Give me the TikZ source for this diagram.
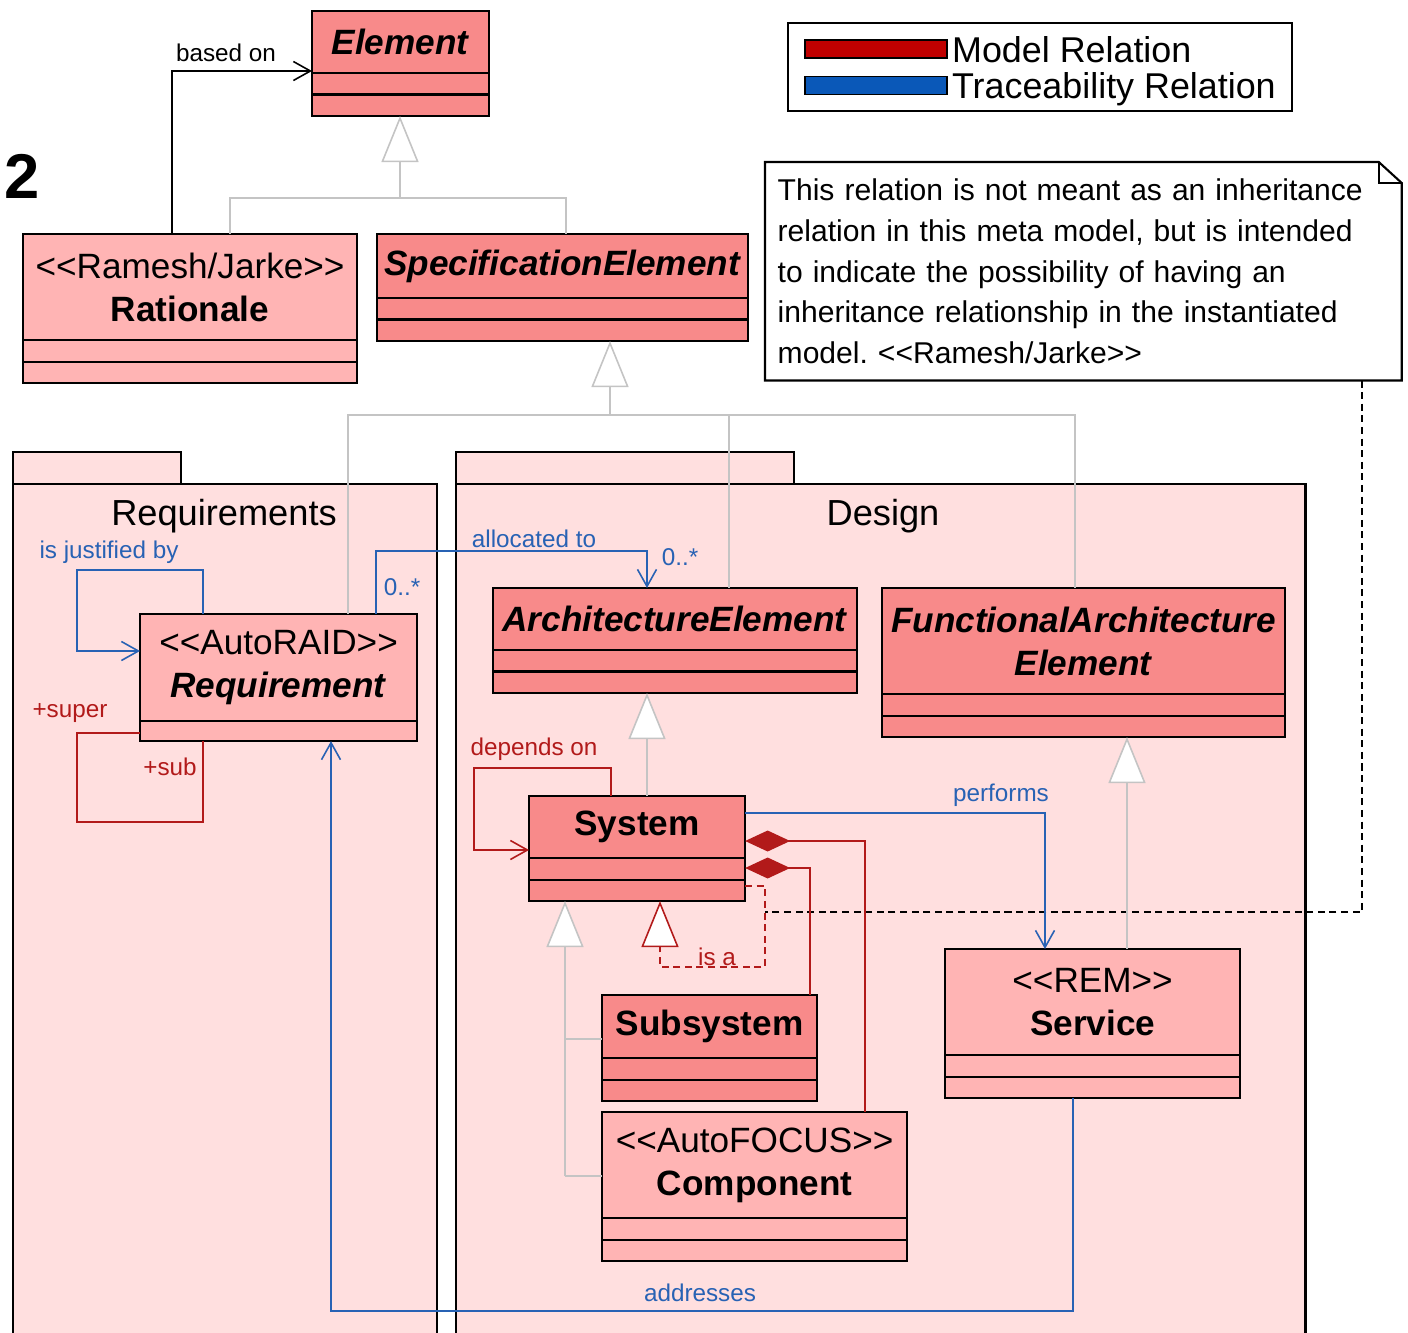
\documentclass[tikz,border=0pt]{standalone}
\usepackage{fontspec}
\setmainfont{Liberation Sans}
\usetikzlibrary{positioning,arrows.meta}
\definecolor{clsdark}{HTML}{F88A8A}
\definecolor{clslight}{HTML}{FFB4B4}
\definecolor{pkgfill}{HTML}{FFDFDF}
\definecolor{relred}{HTML}{B21A1A}
\definecolor{relblue}{HTML}{2862B4}
\definecolor{legred}{HTML}{C00000}
\definecolor{legblue}{HTML}{0A58B8}
\definecolor{genline}{HTML}{C4C4C4}

\begin{document}
\begin{tikzpicture}[x=0.01cm,y=-0.01cm,
	cls/.style={rectangle,draw,line width=0.6pt,anchor=north west,inner sep=0pt,outer sep=0pt,align=center,font=\fontsize{10}{12.2}\selectfont},
	cmp/.style={rectangle,draw,line width=0.6pt,inner sep=0pt,outer sep=0pt,minimum height=0.215cm,minimum width=#1},
	pkg/.style={rectangle,draw,line width=0.6pt,fill=pkgfill,anchor=north west,inner sep=0pt,outer sep=0pt},
	lbl/.style={font=\fontsize{6.9}{8}\selectfont,inner sep=1pt},
	assoc/.style={line width=0.45pt,-{Straight Barb[length=0.17cm,width=0.19cm]}},
	trace/.style={assoc,draw=relblue},
	model/.style={line width=0.45pt,draw=relred},
	gen/.style={line width=0.45pt,draw=genline,-{Triangle[fill=white,length=0.46cm,width=0.37cm]}},
	genl/.style={line width=0.45pt,draw=genline},
	legbar/.style={rectangle,draw,line width=0.5pt,inner sep=0pt,minimum width=1.42cm,minimum height=0.18cm}]
	\useasboundingbox (0,0) rectangle (1408,1333);
	\fill[white] (0,0) rectangle (1408,1333);

	\node[font=\fontsize{18}{20}\selectfont\bfseries]	(num)	at (22,176)	{2};

	\node[draw,line width=0.6pt,anchor=north west,inner sep=0pt,minimum width=5.04cm,minimum height=0.88cm]	(legend)	at (787,22)	{};
	\node[legbar,fill=legred]	(barm)	at (876,49)	{};
	\node[legbar,fill=legblue]	(bart)	at (876,85.5)	{};
	\node[anchor=base west,inner sep=1pt,font=\fontsize{10.2}{12}\selectfont]	(legm)	at ([yshift=-0.13cm]barm.east)	{Model Relation};
	\node[anchor=base west,inner sep=1pt,font=\fontsize{10.2}{12}\selectfont]	(legt)	at ([yshift=-0.125cm]bart.east)	{Traceability Relation};

	\node[anchor=north west,fill=white,inner sep=0pt,minimum width=6.35cm,minimum height=2.17cm,text width=6.11cm,align=left,font=\fontsize{8.55}{11.6}\selectfont]	(note)	at (765,162)
	{This relation is not meant as an inheritance\\relation in this meta model, but is intended\\to indicate the possibility of having an\\inheritance relationship in the instantiated\\model.\ <{}<Ramesh/Jarke>{}>};
	\draw[line width=0.6pt] (note.north west) -- ([xshift=-0.23cm]note.north east) -- ([yshift=-0.21cm]note.north east) -- (note.south east) -- (note.south west) -- cycle;
	\draw[line width=0.6pt] ([xshift=-0.23cm]note.north east) -- ([xshift=-0.23cm,yshift=-0.21cm]note.north east) -- ([yshift=-0.21cm]note.north east);

	\node[pkg,minimum width=1.68cm,minimum height=0.32cm]	(reqtab)	at (13,452)	{};
	\node[pkg,minimum width=4.24cm,minimum height=8.7cm]	(reqpkg)	at (13,484)	{};
	\node[pkg,minimum width=3.38cm,minimum height=0.32cm]	(destab)	at (456,452)	{};
	\node[pkg,minimum width=8.49cm,minimum height=8.7cm]	(despkg)	at (456,484)	{};
	\node[font=\fontsize{10.3}{12}\selectfont]	(reqlbl)	at (224,516)	{Requirements};
	\node[font=\fontsize{10.3}{12}\selectfont]	(deslbl)	at (883,516)	{Design};

	\node[cls,fill=clsdark,minimum width=1.77cm,minimum height=0.62cm]	(elem)	at (312,11)	{\textbf{\textit{Element}}};
	\node[cmp=1.77cm,fill=clsdark,below=0pt of elem]	(elem-a)	{};
	\node[cmp=1.77cm,fill=clsdark,below=0pt of elem-a]	(elem-o)	{};
	\node[cls,fill=clslight,minimum width=3.34cm,minimum height=1.06cm]	(rat)	at (23,234)	{<{}<Ramesh/Jarke>{}>\\\textbf{Rationale}};
	\node[cmp=3.34cm,fill=clslight,below=0pt of rat]	(rat-a)	{};
	\node[cmp=3.34cm,fill=clslight,below=0pt of rat-a]	(rat-o)	{};
	\node[cls,fill=clsdark,minimum width=3.71cm,minimum height=0.64cm]	(spec)	at (377,234)	{\textbf{\textit{SpecificationElement}}};
	\node[cmp=3.71cm,fill=clsdark,below=0pt of spec]	(spec-a)	{};
	\node[cmp=3.71cm,fill=clsdark,below=0pt of spec-a]	(spec-o)	{};
	\node[cls,fill=clslight,minimum width=2.77cm,minimum height=1.07cm]	(req)	at (140,614)	{<{}<AutoRAID>{}>\\\textbf{\textit{Requirement}}};
	\node[cmp=2.77cm,fill=clslight,minimum height=0.2cm,below=0pt of req]	(req-a)	{};
	\node[cls,fill=clsdark,minimum width=3.64cm,minimum height=0.62cm]	(arch)	at (493,588)	{\textbf{\textit{ArchitectureElement}}};
	\node[cmp=3.64cm,fill=clsdark,below=0pt of arch]	(arch-a)	{};
	\node[cmp=3.64cm,fill=clsdark,below=0pt of arch-a]	(arch-o)	{};
	\node[cls,fill=clsdark,minimum width=4.03cm,minimum height=1.06cm]	(fae)	at (882,588)	{\textbf{\textit{FunctionalArchitecture}}\\\textbf{\textit{Element}}};
	\node[cmp=4.03cm,fill=clsdark,below=0pt of fae]	(fae-a)	{};
	\node[cmp=4.03cm,fill=clsdark,below=0pt of fae-a]	(fae-o)	{};
	\node[cls,fill=clsdark,minimum width=2.16cm,minimum height=0.62cm]	(sys)	at (529,796)	{\textbf{System}};
	\node[cmp=2.16cm,fill=clsdark,below=0pt of sys]	(sys-a)	{};
	\node[cmp=2.16cm,fill=clsdark,below=0pt of sys-a]	(sys-o)	{};
	\node[cls,fill=clsdark,minimum width=2.15cm,minimum height=0.63cm]	(sub)	at (602,995)	{\textbf{Subsystem}};
	\node[cmp=2.15cm,fill=clsdark,below=0pt of sub]	(sub-a)	{};
	\node[cmp=2.15cm,fill=clsdark,below=0pt of sub-a]	(sub-o)	{};
	\node[cls,fill=clslight,minimum width=3.05cm,minimum height=1.06cm]	(comp)	at (602,1112)	{<{}<AutoFOCUS>{}>\\\textbf{Component}};
	\node[cmp=3.05cm,fill=clslight,below=0pt of comp]	(comp-a)	{};
	\node[cmp=3.05cm,fill=clslight,below=0pt of comp-a]	(comp-o)	{};
	\node[cls,fill=clslight,minimum width=2.95cm,minimum height=1.06cm]	(serv)	at (945,949)	{<{}<REM>{}>\\\textbf{Service}};
	\node[cmp=2.95cm,fill=clslight,below=0pt of serv]	(serv-a)	{};
	\node[cmp=2.95cm,fill=clslight,below=0pt of serv-a]	(serv-o)	{};

	\coordinate (b1) at (172,71);
	\coordinate (g1) at (400,198);
	\coordinate (g1a) at (230,198);
	\coordinate (g1b) at (566,198);
	\coordinate (g2) at (610,415);
	\coordinate (g2a) at (348,415);
	\coordinate (g2b) at (729,415);
	\coordinate (g2c) at (1075,415);
	\coordinate (j1) at (203,570);
	\coordinate (j2) at (77,570);
	\coordinate (j3) at (77,651);
	\coordinate (s1) at (77,733);
	\coordinate (s2) at (77,822);
	\coordinate (s3) at (203,822);
	\coordinate (a1) at (376,551);
	\coordinate (a2) at (647,551);
	\coordinate (d1) at (611,768);
	\coordinate (d2) at (474,768);
	\coordinate (d3) at (474,850);
	\coordinate (g3) at (647,740);
	\coordinate (g4) at (565,1176);
	\coordinate (g4b) at (565,1039);
	\coordinate (g5) at (1127,900);
	\coordinate (i1) at (765,886);
	\coordinate (i2) at (765,967);
	\coordinate (i3) at (660,967);
	\coordinate (n1) at (1362,912);
	\coordinate (c1) at (865,841);
	\coordinate (c2) at (810,868);
	\coordinate (p1) at (1045,813);
	\coordinate (r1) at (1073,1311);
	\coordinate (r2) at (331,1311);

	\draw[assoc] (b1 |- rat.north) -- (b1) -- (b1 -| elem.west);
	\draw[gen] (g1) -- (g1 |- elem-o.south);
	\draw[genl] (g1a |- rat.north) -- (g1a) -- (g1b) -- (g1b |- spec.north);
	\draw[gen] (g2) -- (g2 |- spec-o.south);
	\draw[genl] (g2a |- req.north) -- (g2a) -- (g2c) -- (g2c |- fae.north);
	\draw[genl] (g2b) -- (g2b |- arch.north);
	\draw[trace] (j1 |- req.north) -- (j1) -- (j2) -- (j3) -- (j3 -| req.west);
	\draw[model] (s1 -| req.west) -- (s1) -- (s2) -- (s3) -- (s3 |- req-a.south);
	\draw[trace] (a1 |- req.north) -- (a1) -- (a2) -- (a2 |- arch.north);
	\draw[model,assoc] (d1 |- sys.north) -- (d1) -- (d2) -- (d3) -- (d3 -| sys.west);
	\draw[gen] (g3 |- sys.north) -- (g3 |- arch-o.south);
	\draw[gen] (g4) -- (g4 |- sys-o.south);
	\draw[genl] (g4b) -- (g4b -| sub.west);
	\draw[genl] (g4) -- (g4 -| comp.west);
	\draw[line width=0.6pt,dash pattern=on 2pt off 1.3pt] (n1 |- note.south) -- (n1) -- (i1 |- n1);
	\draw[model,dash pattern=on 2pt off 1.3pt,-{Triangle[fill=white,length=0.46cm,width=0.37cm]}] (i1 -| sys-o.east) -- (i1) -- (i2) -- (i3) -- (i3 |- sys-o.south);
	\draw[model,{Diamond[length=0.45cm,width=0.21cm]}-] (c1 -| sys.east) -- (c1) -- (c1 |- comp.north);
	\draw[model,{Diamond[length=0.45cm,width=0.21cm]}-] (c2 -| sys-a.east) -- (c2) -- (c2 |- sub.north);
	\draw[trace] (p1 -| sys.east) -- (p1) -- (p1 |- serv.north);
	\draw[gen] (g5 |- serv.north) -- (g5 |- fae-o.south);
	\draw[trace] (r1 |- serv-o.south) -- (r1) -- (r2) -- (r2 |- req-a.south);

	\node[lbl]	(lbased)	at (226,53)	{based on};
	\node[lbl,text=relblue]	(ljust)	at (109,552)	{is justified by};
	\node[lbl,text=relred]	(lsuper)	at (70,713)	{+super};
	\node[lbl,text=relred]	(lsub)	at (170,767)	{+sub};
	\node[lbl,text=relblue]	(lm1)	at (402,587)	{0..*};
	\node[lbl,text=relblue]	(lalloc)	at (534,539)	{allocated to};
	\node[lbl,text=relblue]	(lm2)	at (680,557)	{0..*};
	\node[lbl,text=relred]	(ldep)	at (534,749)	{depends on};
	\node[lbl,text=relred]	(lisa)	at (717,957)	{is a};
	\node[lbl,text=relblue]	(lperf)	at (1001,795)	{performs};
	\node[lbl,text=relblue]	(laddr)	at (700,1293)	{addresses};
\end{tikzpicture}
\end{document}
